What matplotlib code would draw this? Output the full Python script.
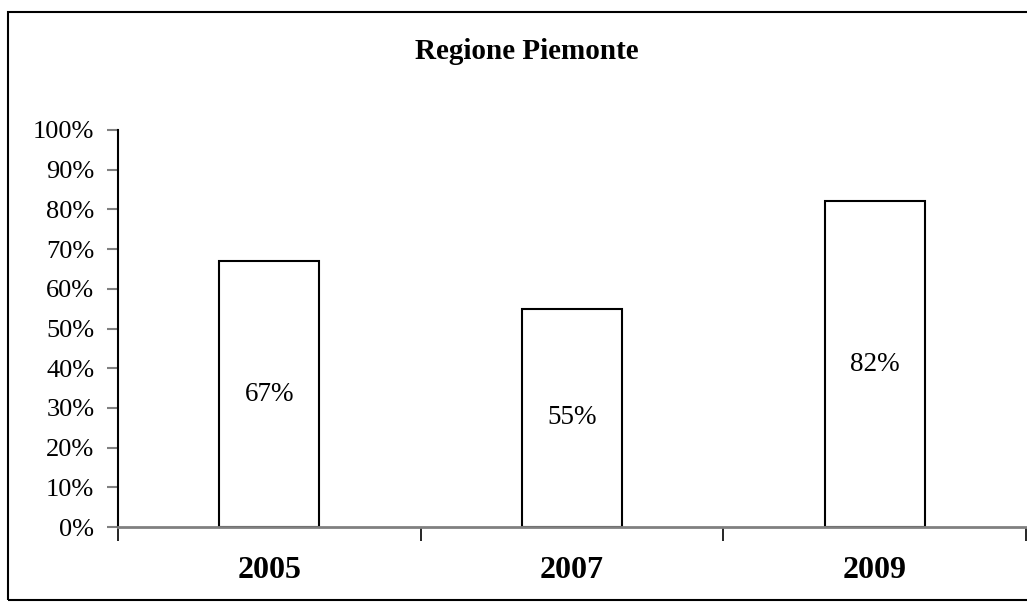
import matplotlib
matplotlib.use('Agg')
import matplotlib.pyplot as plt
from matplotlib.patches import Rectangle
import numpy as np

years = ['2005', '2007', '2009']
values = [67, 55, 82]
yticks = [0, 10, 20, 30, 40, 50, 60, 70, 80, 90, 100]

plt.rcParams['font.family'] = ['Liberation Serif', 'DejaVu Serif']

W, H = 1027, 608
fig = plt.figure(figsize=(W / 100, H / 100), dpi=100)

# outer chart border
fig.patches.append(Rectangle((8 / W, 1 - 600 / H), 1.2, (600 - 12) / H,
                             transform=fig.transFigure, fill=False,
                             edgecolor='black', linewidth=1.5))

ax = fig.add_axes([118 / W, 1 - 527 / H, (1026 - 118) / W, (527 - 130) / H])

x = np.arange(len(years))
bars = ax.bar(x, values, width=0.33, color='white', edgecolor='black', linewidth=1.5, zorder=3)

for xi, v in zip(x, values):
    ax.text(xi, v / 2, f'{v}%', ha='center', va='center', fontsize=19.5, zorder=4)

ax.set_xlim(-0.5, len(years) - 0.5)
ax.set_ylim(0, 100)
ax.set_yticks(yticks)
ax.set_yticklabels([f'{t}%' for t in yticks], fontsize=19)
ax.tick_params(axis='y', length=8, width=1.5, color='#808080', pad=9)

# category boundaries as ticks, year labels below
ax.set_xticks(np.arange(len(years) + 1) - 0.5)
ax.set_xticklabels([])
ax.tick_params(axis='x', length=10, width=1.2, color='black', direction='out')
for xi, yr in zip(x, years):
    ax.text(xi, -0.109 * 100, yr, ha='center', va='center', fontsize=23,
            fontweight='bold', clip_on=False)

for side in ['top', 'right']:
    ax.spines[side].set_visible(False)
ax.spines['left'].set_linewidth(1.5)
ax.spines['left'].set_color('black')
ax.spines['bottom'].set_linewidth(2)
ax.spines['bottom'].set_color('#808080')
ax.spines['bottom'].set_zorder(5)

fig.text(527 / W, 1 - 59 / H, 'Regione Piemonte', ha='center', va='baseline',
         fontsize=21, fontweight='bold')

fig.savefig('out.png', dpi=100)
